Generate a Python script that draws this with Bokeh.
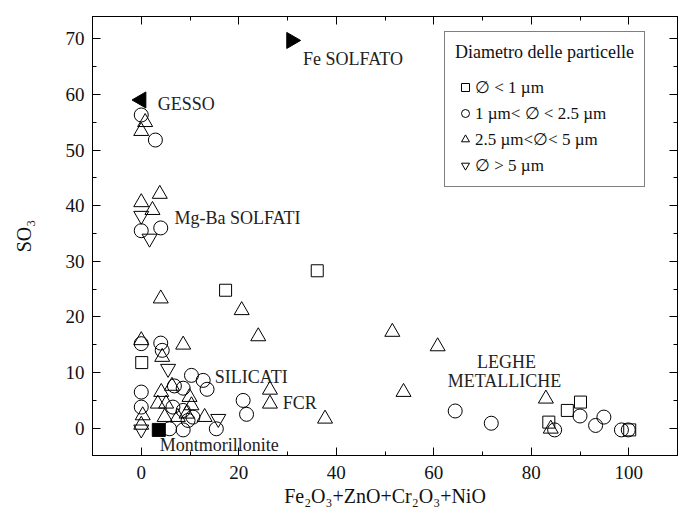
from bokeh.plotting import figure
from bokeh.models import (LinearAxis, SingleIntervalTicker, FixedTicker, Range1d, Legend,
                          LegendItem)
from bokeh.core.properties import value
from bokeh.embed import file_html
from bokeh.resources import INLINE
import math

FONT = "Liberation Serif"

# ---------------- data ----------------
# particles < 1 um (squares)
sq_x = [36.1, 17.3, 0.1, 90.1, 87.4, 83.6, 100.2]
sq_y = [28.3, 24.8, 11.8, 4.7, 3.2, 1.1, -0.3]

# 1 um < d < 2.5 um (circles)
ci_x = [0.0, 2.9, 0.0, 4.0, 0.0, 4.0, 4.3, 10.3, 12.7, 13.5, 0.0, 0.0, 6.8, 8.6,
        20.9, 21.6, 9.6, 5.8, 8.6, 15.4, 6.5, 8.6, 10.6, 64.4, 71.8, 84.8, 90.0,
        94.9, 93.2, 98.5, 99.9]
ci_y = [56.3, 51.8, 35.5, 36.0, 15.2, 15.3, 14.0, 9.5, 8.6, 7.0, 6.5, 3.8, 7.6, 7.2,
        5.0, 2.5, 1.4, -0.1, -0.3, -0.1, 3.8, 3.2, 2.0, 3.1, 0.9, -0.3, 2.2,
        2.0, 0.5, -0.3, -0.3]

# 2.5 um < d < 5 um (triangles)
tr_x = [0.8, 0.0, 3.8, 0.0, 2.3, 4.0, 20.6, 24.0, 0.0, 8.6, 4.3, 6.3, 26.4, 26.4,
        37.7, 51.5, 60.8, 53.8, 83.0, 84.0, 4.1, 3.4, 5.1, 9.9, 10.3, 0.3, 4.8,
        7.5, 9.3, 13.0, 0.0]
tr_y = [55.0, 53.4, 42.1, 40.6, 39.2, 23.3, 21.2, 16.5, 15.8, 15.0, 12.8, 7.6, 6.9, 4.4,
        1.7, 17.3, 14.7, 6.5, 5.3, -0.1, 6.5, 4.4, 4.4, 5.6, 4.1, 2.3, 2.0,
        2.0, 2.6, 2.0, 0.6]

# d > 5 um (inverted triangles)
it_x = [0.0, 1.7, 5.5, 15.8, 0.0]
it_y = [38.2, 34.1, 10.7, 1.7, -0.2]

# reference minerals (filled)
gesso_x, gesso_y = [0.0], [59.0]
fesolf_x, fesolf_y = [30.8], [69.7]
montm_x, montm_y = [3.6], [-0.3]

# annotations
lab_left_text = ["Fe SOLFATO", "GESSO", "Mg-Ba SOLFATI", "SILICATI", "FCR", "Montmorillonite"]
lab_left_x = [33.2, 3.4, 6.8, 15.1, 29.0, 3.8]
lab_left_y = [66.4, 58.2, 37.8, 9.2, 4.5, -3.1]
lab_center_text = ["LEGHE", "METALLICHE"]
lab_center_x = [74.9, 74.5]
lab_center_y = [11.9, 8.5]

legend_title = "Diametro delle particelle"
legend_labels = ["\u2205 < 1 \u00b5m", "1 \u00b5m< \u2205 < 2.5 \u00b5m",
                 "2.5 \u00b5m<\u2205< 5 \u00b5m", "\u2205 > 5 \u00b5m"]

x_title = "Fe\u2082O\u2083+ZnO+Cr\u2082O\u2083+NiO"
y_title = "SO\u2083"

x_major = [0, 20, 40, 60, 80, 100]
x_minor = [10, 30, 50, 70, 90]
y_major = [0, 10, 20, 30, 40, 50, 60, 70]
y_minor = [-5, 5, 15, 25, 35, 45, 55, 65]

# ---------------- figure ----------------
p = figure(width=687, height=518, x_range=Range1d(-10, 110), y_range=Range1d(-4.9, 74.0),
           output_backend="svg", toolbar_location=None,
           x_axis_type=None, y_axis_type=None,
           min_border_left=92, min_border_right=10, min_border_top=16, min_border_bottom=63)
p.grid.visible = False
p.outline_line_color = "black"
p.background_fill_color = "white"
p.border_fill_color = "white"


def style_axis(ax):
    ax.major_tick_in = 8
    ax.major_tick_out = 0
    ax.minor_tick_in = 4
    ax.minor_tick_out = 0
    ax.axis_line_color = "black"
    ax.major_tick_line_color = "black"
    ax.minor_tick_line_color = "black"
    ax.major_label_text_font = FONT
    ax.major_label_text_color = "#111111"
    ax.major_label_text_font_size = "19px"
    ax.axis_label_text_font = FONT
    ax.axis_label_text_font_size = "20px"
    ax.axis_label_text_font_style = "normal"
    ax.axis_label_text_color = "#111111"


def mirror_axis(ticks, length):
    ax = LinearAxis(ticker=FixedTicker(ticks=[], minor_ticks=ticks))
    ax.axis_line_color = "black"
    ax.major_tick_line_color = None
    ax.minor_tick_line_color = "black"
    ax.minor_tick_in = length
    ax.minor_tick_out = 0
    ax.major_tick_in = 0
    ax.major_tick_out = 0
    ax.major_label_standoff = 0
    return ax


xb = LinearAxis(ticker=SingleIntervalTicker(interval=20, num_minor_ticks=2))
style_axis(xb)
xb.major_label_standoff = 10
xb.axis_label = x_title
xb.axis_label_standoff = 3
p.add_layout(xb, "below")

yl = LinearAxis(ticker=SingleIntervalTicker(interval=10, num_minor_ticks=2))
style_axis(yl)
yl.major_label_standoff = 8
yl.axis_label = y_title
yl.axis_label_standoff = 28
p.add_layout(yl, "left")

p.add_layout(mirror_axis(x_major, 8), "above")
p.add_layout(mirror_axis(x_minor, 4), "above")
p.add_layout(mirror_axis(y_major, 8), "right")
p.add_layout(mirror_axis(y_minor, 4), "right")

# ---------------- markers ----------------
common = dict(fill_color=None, line_color="black", line_width=1)
r_sq = p.scatter(sq_x, sq_y, marker="square", size=12, **common)
r_ci = p.scatter(ci_x, ci_y, marker="circle", size=14, **common)
r_tr = p.scatter(tr_x, tr_y, marker="triangle", size=15, **common)
r_it = p.scatter(it_x, it_y, marker="inverted_triangle", size=15, **common)

p.scatter(gesso_x, gesso_y, marker="triangle", size=16, angle=math.pi / 2,
          fill_color="black", line_color="black")
p.scatter(fesolf_x, fesolf_y, marker="triangle", size=16, angle=-math.pi / 2,
          fill_color="black", line_color="black")
p.scatter(montm_x, montm_y, marker="square", size=13, fill_color="black", line_color="black")

# ---------------- annotations ----------------
p.text(x=lab_left_x, y=lab_left_y, text=lab_left_text, text_font=value(FONT),
       text_font_size="18px", text_baseline="middle", text_align="left", text_color="#222222")
p.text(x=lab_center_x, y=lab_center_y, text=lab_center_text, text_font=value(FONT),
       text_font_size="18px", text_baseline="middle", text_align="center", text_color="#222222")

# ---------------- legend ----------------
items = [LegendItem(label=lab, renderers=[r]) for lab, r in
         zip(legend_labels, [r_sq, r_ci, r_tr, r_it])]
legend = Legend(items=items, title=legend_title, location=(352, 268),
                border_line_color="black", border_line_width=1,
                background_fill_color="white", background_fill_alpha=1.0,
                label_text_font=FONT, label_text_font_size="17px", label_text_color="#111111",
                title_text_font=FONT, title_text_font_size="18px",
                title_text_font_style="normal", title_text_color="#111111",
                padding=10, spacing=4, label_height=22, glyph_height=22, glyph_width=20,
                label_standoff=0, title_standoff=13, margin=0)
p.add_layout(legend)

with open("out.html", "w") as f:
    f.write(file_html(p, INLINE))
